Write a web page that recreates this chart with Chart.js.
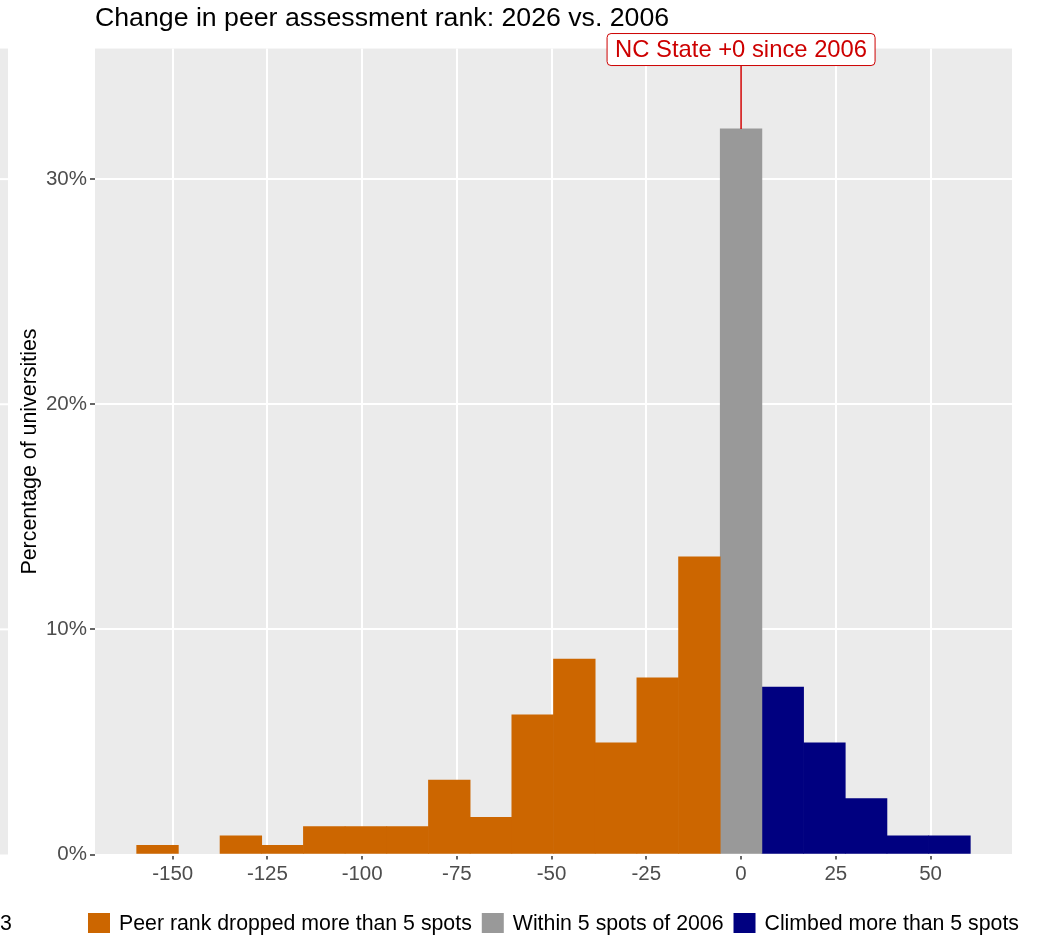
<!DOCTYPE html>
<html>
<head>
<meta charset="utf-8">
<script src="https://cdn.jsdelivr.net/npm/chart.js@4.4.1/dist/chart.umd.min.js"></script>
<style>
  html, body { margin: 0; padding: 0; background: #fff; }
  canvas { display: block; }
</style>
</head>
<body>
<canvas id="chart" width="1037" height="936"></canvas>
<script>
const chartTitle = "Change in peer assessment rank: 2026 vs. 2006";
const yTitle = "Percentage of universities";

// bin centres (11-spot bins) and share of universities in each, in %
const dropBins = [-154, -143, -132, -121, -110, -99, -88, -77, -66, -55, -44, -33, -22, -11];
const dropPct = [0.41, 0, 0.83, 0.41, 1.24, 1.24, 1.24, 3.31, 1.65, 6.20, 8.68, 4.96, 7.85, 13.22];
const withinBins = [0];
const withinPct = [32.23];
const climbBins = [11, 22, 33, 44, 55];
const climbPct = [7.44, 4.96, 2.48, 0.83, 0.83];

const seriesNames = ["Peer rank dropped more than 5 spots", "Within 5 spots of 2006", "Climbed more than 5 spots"];
const seriesColors = ["#CC6600", "#999999", "#000080"];

const xMin = -170.5, xMax = 71.5, xStep = 25;
const yMax = 35.8, yStep = 10;

const highlight = { value: 0, label: "NC State +0 since 2006" };
const fontFamily = '"Liberation Sans", Arial, sans-serif';

Chart.defaults.font.family = fontFamily;

// empty bins are left out so no hairline is drawn for them
function points(bins, vals) {
	return bins.map((b, i) => ({ x: b, y: vals[i] })).filter((p) => p.y > 0);
}

const panel = {
	id: "panel",
	beforeDraw: function (chart) {
		const ctx = chart.ctx;
		const a = chart.chartArea;
		ctx.save();
		ctx.fillStyle = "#EBEBEB";
		ctx.fillRect(a.left, a.top, a.right - a.left, a.bottom - a.top);
		// edge of the neighbouring panel, cut off at the left of the picture
		ctx.fillRect(0, a.top, 8, a.bottom - a.top);
		ctx.strokeStyle = "#FFFFFF";
		ctx.lineWidth = 2;
		chart.scales.y.ticks.forEach((t) => {
			if (t.value === 0) return;
			const y = chart.scales.y.getPixelForValue(t.value);
			ctx.beginPath();
			ctx.moveTo(0, y);
			ctx.lineTo(8, y);
			ctx.stroke();
		});
		ctx.restore();
	}
};

const extras = {
	id: "extras",
	afterDraw: function (chart) {
		const ctx = chart.ctx;
		const a = chart.chartArea;
		const xs = chart.scales.x, ys = chart.scales.y;

		// NC State label
		const x = xs.getPixelForValue(highlight.value);
		const barTop = ys.getPixelForValue(withinPct[withinBins.indexOf(highlight.value)]);
		const cy = ys.getPixelForValue(yMax) + 1;
		ctx.save();
		ctx.font = "23.8px " + fontFamily;
		const w = ctx.measureText(highlight.label).width + 16;
		const h = 32;
		ctx.strokeStyle = "#CD0000";
		ctx.lineWidth = 1.5;
		ctx.beginPath();
		ctx.moveTo(x, cy + h / 2);
		ctx.lineTo(x, barTop);
		ctx.stroke();
		ctx.beginPath();
		ctx.roundRect(x - w / 2, cy - h / 2, w, h, 4);
		ctx.fillStyle = "#FFFFFF";
		ctx.fill();
		ctx.lineWidth = 1;
		ctx.stroke();
		ctx.fillStyle = "#CD0000";
		ctx.textAlign = "center";
		ctx.textBaseline = "middle";
		ctx.fillText(highlight.label, x, cy + 1);

		// legend, centred under the panel
		ctx.font = "21.3px " + fontFamily;
		const boxW = 22, boxH = 20, gap = 9, sep = 10;
		const widths = seriesNames.map((n) => boxW + gap + ctx.measureText(n).width);
		const total = widths.reduce((s, v) => s + v, 0) + sep * (widths.length - 1);
		let lx = (a.left + a.right) / 2 - total / 2;
		const ly = chart.height - 23;
		ctx.textAlign = "left";
		seriesNames.forEach((n, i) => {
			ctx.fillStyle = seriesColors[i];
			ctx.fillRect(lx, ly, boxW, boxH);
			ctx.fillStyle = "#000000";
			ctx.fillText(n, lx + boxW + gap, ly + boxH / 2 + 1);
			lx += widths[i] + sep;
		});

		// stray label from the neighbouring panel
		ctx.fillText("3", 0, ly + boxH / 2 + 1);
		ctx.restore();
	}
};

const barStyle = {
	grouped: false,
	barPercentage: 1,
	categoryPercentage: 1,
	borderWidth: 0
};

new Chart(document.getElementById("chart").getContext("2d"), {
	type: "bar",
	data: {
		datasets: [
			Object.assign({ label: seriesNames[0], data: points(dropBins, dropPct), backgroundColor: seriesColors[0] }, barStyle),
			Object.assign({ label: seriesNames[1], data: points(withinBins, withinPct), backgroundColor: seriesColors[1] }, barStyle),
			Object.assign({ label: seriesNames[2], data: points(climbBins, climbPct), backgroundColor: seriesColors[2] }, barStyle)
		]
	},
	options: {
		responsive: false,
		animation: false,
		layout: {
			padding: { left: 0, right: 25, top: 0, bottom: 33.5 }
		},
		plugins: {
			legend: { display: false },
			tooltip: { enabled: false },
			title: {
				display: true,
				text: chartTitle,
				align: "start",
				fullSize: false,
				color: "#000000",
				font: { size: 26.7, weight: "normal" },
				padding: { top: 3, bottom: 13.5 }
			}
		},
		scales: {
			x: {
				type: "linear",
				min: xMin,
				max: xMax,
				offset: false,
				border: { display: false },
				grid: {
					offset: false,
					color: "#FFFFFF",
					lineWidth: 2,
					tickColor: "#333333",
					tickLength: 5,
					tickWidth: 1.5
				},
				ticks: {
					stepSize: xStep,
					includeBounds: false,
					color: "#4D4D4D",
					font: { size: 20.5 },
					padding: 3,
					maxRotation: 0,
					callback: (v) => String(v)
				},
				afterFit: (scale) => { scale.height = 48; }
			},
			y: {
				min: 0,
				max: yMax,
				border: { display: false },
				grid: {
					color: "#FFFFFF",
					lineWidth: 2,
					tickColor: "#333333",
					tickLength: 5,
					tickWidth: 1.5
				},
				ticks: {
					stepSize: yStep,
					includeBounds: false,
					color: "#4D4D4D",
					font: { size: 20.5 },
					padding: 3,
					callback: (v) => v + "%"
				},
				title: {
					display: true,
					text: yTitle,
					color: "#000000",
					font: { size: 21.4 },
					padding: { top: 17.2, bottom: 0 }
				},
				afterFit: (scale) => { scale.width = 95; }
			}
		}
	},
	plugins: [panel, extras]
});
</script>
</body>
</html>
